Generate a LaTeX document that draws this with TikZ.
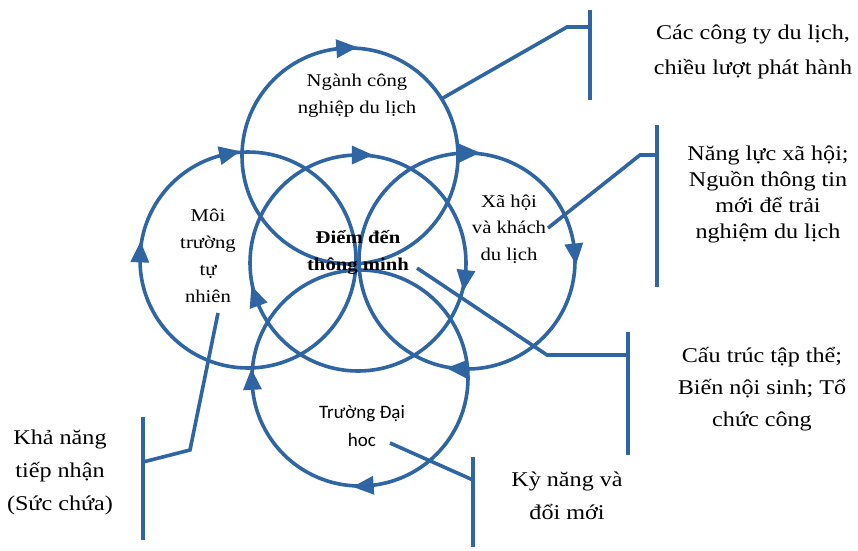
\documentclass[tikz,border=0pt]{standalone}
\usepackage{fontspec}
\setmainfont{Liberation Serif}[FakeStretch=1.15]
\newfontfamily\uisans{Carlito}
\usetikzlibrary{shapes.geometric}
\definecolor{ringblue}{RGB}{46,101,162}
\begin{document}
\begin{tikzpicture}[x=1pt,y=-1pt,
  ring/.style={circle, draw=ringblue, line width=3.6pt, minimum size=216pt, inner sep=0pt, outer sep=0pt},
  cwtri/.style={isosceles triangle, isosceles triangle stretches, fill=ringblue,
    minimum height=21pt, minimum width=19pt, inner sep=0pt, outer sep=0pt, rotate=#1},
  link/.style={draw=ringblue, line width=3.6pt},
  inlabel/.style={align=center, inner sep=0pt, font=\fontsize{18}{27}\selectfont},
  outlabel/.style={align=center, inner sep=0pt}]

% canvas
\fill[white] (0,0) rectangle (858,550);
\useasboundingbox (0,0) rectangle (858,550);

% the five overlapping cycles
\node[ring] (ctop)   at (350,156) {};
\node[ring] (cleft)  at (248,260) {};
\node[ring] (cmid)   at (358,263) {};
\node[ring] (cright) at (467,261) {};
\node[ring] (cbot)   at (360,378) {};

% clockwise direction marks
\node[cwtri=4]    (t1) at (ctop.94)    {};
\node[cwtri=12]   (l1) at (cleft.102)  {};
\node[cwtri=88]   (l2) at (cleft.178)  {};
\node[cwtri=0]    (m1) at (cmid.90)    {};
\node[cwtri=110]  (m2) at (cmid.200)   {};
\node[cwtri=-97]  (m3) at (cmid.-7)    {};
\node[cwtri=1]    (r1) at (cright.91)  {};
\node[cwtri=-84]  (r2) at (cright.6)   {};
\node[cwtri=177]  (r3) at (cright.267) {};
\node[cwtri=93]   (b1) at (cbot.183)   {};
\node[cwtri=184]  (b2) at (cbot.274)   {};

% texts inside the cycles
\node[inlabel] (tTop)   at (357,96)  {Ngành công\\nghiệp du lịch};
\node[inlabel] (tLeft)  at (208,256) {Môi\\trường\\tự\\nhiên};
\node[inlabel, font=\bfseries\fontsize{18}{27}\selectfont] (tMid) at (358,252) {Điểm đến\\thông minh};
\node[inlabel, font=\fontsize{18}{26.5}\selectfont] (tRight) at (509,229) {Xã hội\\và khách\\du lịch};
\node[inlabel, font=\uisans\fontsize{19}{28}\selectfont] (tBot) at (362,426) {Trường Đại\\hoc};

% outside labels
\node[outlabel, font=\fontsize{21}{35}\selectfont] (lab1) at (753,52) {Các công ty du lịch,\\chiều lượt phát hành};
\node[outlabel, font=\fontsize{21}{26}\selectfont] (lab2) at (768,194) {Năng lực xã hội;\\Nguồn thông tin\\mới để trải\\nghiệm du lịch};
\node[outlabel, font=\fontsize{21}{32}\selectfont] (lab3) at (762,389) {Cấu trúc tập thể;\\Biến nội sinh; Tổ\\chức công};
\node[outlabel, font=\fontsize{21}{33}\selectfont] (lab4) at (567,496) {Kỳ năng và\\đổi mới};
\node[outlabel, font=\fontsize{21}{33}\selectfont] (lab5) at (60,472) {Khả năng\\tiếp nhận\\(Sức chứa)};

% bracket connectors: elbows and bars
\coordinate (k1a) at (ctop.32);
\coordinate (k1b) at (567,27);
\coordinate (k1c) at (590,27);
\coordinate (bar1t) at (590,10);
\coordinate (bar1b) at (590,100);

\coordinate (k2a) at (548,228);
\coordinate (k2b) at (640,155);
\coordinate (k2c) at (657,155);
\coordinate (bar2t) at (657,125);
\coordinate (bar2b) at (657,287);

\coordinate (k3a) at (417,268);
\coordinate (k3b) at (547,355);
\coordinate (k3c) at (628,355);
\coordinate (bar3t) at (628,332);
\coordinate (bar3b) at (628,455);

\coordinate (k4a) at (390,443);
\coordinate (k4b) at (473,480);
\coordinate (bar4t) at (473,457);
\coordinate (bar4b) at (473,547);

\coordinate (k5a) at (218,313);
\coordinate (k5b) at (190,450);
\coordinate (k5c) at (143,462);
\coordinate (bar5t) at (143,417);
\coordinate (bar5b) at (143,540);

\draw[link] (k1a) -- (k1b) -- (k1c);
\draw[link] (bar1t) -- (bar1b);
\draw[link] (k2a) -- (k2b) -- (k2c);
\draw[link] (bar2t) -- (bar2b);
\draw[link] (k3a) -- (k3b) -- (k3c);
\draw[link] (bar3t) -- (bar3b);
\draw[link] (k4a) -- (k4b);
\draw[link] (bar4t) -- (bar4b);
\draw[link] (k5a) -- (k5b) -- (k5c);
\draw[link] (bar5t) -- (bar5b);
\end{tikzpicture}
\end{document}
